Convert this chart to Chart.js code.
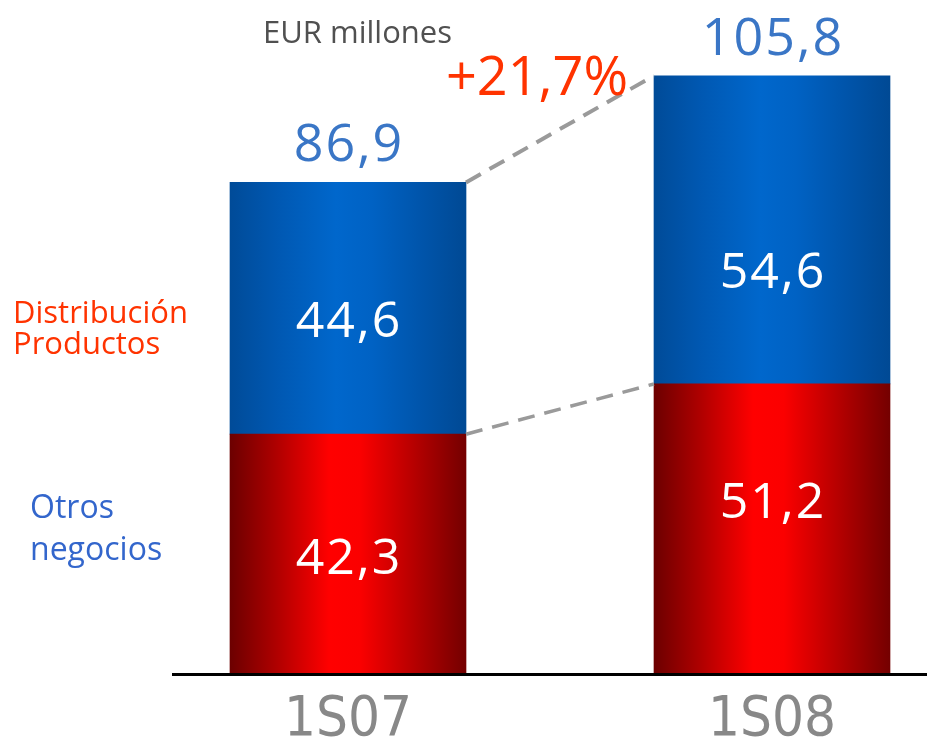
<!DOCTYPE html>
<html>
<head>
<meta charset="utf-8">
<script src="https://cdn.jsdelivr.net/npm/chart.js@4.4.1/dist/chart.umd.min.js"></script>
<style>
  html, body { margin: 0; padding: 0; background: #ffffff; }
  #wrap { width: 927px; height: 738px; position: relative; }
</style>
</head>
<body>
<div id="wrap"><canvas id="c" width="927" height="738"></canvas></div>
<script>
// ---- data ----
const categories = ['1S07', '1S08'];
const otrosNegocios = [42.3, 51.2];          // red, bottom segment
const distribucionProductos = [44.6, 54.6];  // blue, top segment
const totals = [86.9, 105.8];
const growthLabel = '+21,7%';
const unitLabel = 'EUR millones';
const sideLabelsTop = ['Distribución', 'Productos'];
const sideLabelsBottom = ['Otros', 'negocios'];

const fmt = v => v.toFixed(1).replace('.', ',');

const FONT = '"Open Sans", "DejaVu Sans", sans-serif';

function drawText(ctx, text, x, y, font, color, align, spacing) {
  ctx.save();
  ctx.font = font;
  ctx.fillStyle = color;
  ctx.textBaseline = 'alphabetic';
  if (spacing) ctx.letterSpacing = spacing + 'px';
  let w = ctx.measureText(text).width;
  if (spacing) w -= spacing;
  let sx = x;
  if (align === 'center') sx = x - w / 2;
  else if (align === 'right') sx = x - w;
  ctx.textAlign = 'left';
  ctx.fillText(text, sx, y);
  ctx.restore();
}

const gradientPlugin = {
  id: 'barGradients',
  beforeDatasetsDraw(chart) {
    const ctx = chart.ctx;
    const stops = [
      [[0, '#6c0000'], [0.2, '#b00000'], [0.42, '#ff0000'], [0.55, '#fb0000'], [0.8, '#b00000'], [1, '#740000']],
      [[0, '#004b98'], [0.2, '#0058b2'], [0.45, '#0067cc'], [0.6, '#0062c4'], [0.85, '#0052a6'], [1, '#004994']]
    ];
    chart.data.datasets.forEach((ds, di) => {
      const meta = chart.getDatasetMeta(di);
      meta.data.forEach(el => {
        const l = el.x - el.width / 2, r = el.x + el.width / 2;
        const g = ctx.createLinearGradient(l, 0, r, 0);
        stops[di].forEach(s => g.addColorStop(s[0], s[1]));
        el.options = Object.assign({}, el.options, { backgroundColor: g });
      });
    });
  }
};

const annotPlugin = {
  id: 'annotations',
  afterDatasetsDraw(chart) {
    const ctx = chart.ctx;
    const yS = chart.scales.y;
    const red = chart.getDatasetMeta(0).data;
    const blue = chart.getDatasetMeta(1).data;

    // dashed connector lines
    ctx.save();
    ctx.strokeStyle = '#9a9a9a';
    ctx.setLineDash([17, 10]);
    ctx.lineWidth = 4;
    ctx.beginPath();
    ctx.moveTo(blue[0].x + blue[0].width / 2, blue[0].y);
    ctx.lineTo(blue[1].x - blue[1].width / 2, blue[1].y);
    ctx.stroke();
    ctx.lineWidth = 3.5;
    ctx.beginPath();
    ctx.moveTo(red[0].x + red[0].width / 2, red[0].y);
    ctx.lineTo(red[1].x - red[1].width / 2, red[1].y);
    ctx.stroke();
    ctx.restore();

    // baseline axis line
    const y0 = yS.getPixelForValue(0);
    ctx.save();
    ctx.strokeStyle = '#000000';
    ctx.lineWidth = 3;
    ctx.beginPath();
    ctx.moveTo(172, y0 + 1.5);
    ctx.lineTo(927, y0 + 1.5);
    ctx.stroke();
    ctx.restore();

    // segment value labels (white)
    const offs = [[2, -28], [11, 40]];
    const segFont = '50px ' + FONT;
    [otrosNegocios, distribucionProductos].forEach((arr, di) => {
      const els = chart.getDatasetMeta(di).data;
      arr.forEach((v, i) => {
        const el = els[i];
        const mid = (el.y + el.base) / 2 + offs[di][i];
        drawText(ctx, fmt(v), el.x, mid + 18, segFont, '#ffffff', 'center', 2);
      });
    });

    // totals
    totals.forEach((t, i) => {
      const el = blue[i];
      drawText(ctx, fmt(t), el.x, el.y - 21, '52px ' + FONT, '#3a76c6', 'center', 2);
    });

    // growth label
    const gx = ((blue[0].x + blue[0].width / 2) + (blue[1].x - blue[1].width / 2)) / 2 - 23;
    drawText(ctx, growthLabel, gx, blue[1].y + 19, '54px ' + FONT, '#ff3300', 'center', 0);

    // unit label
    drawText(ctx, unitLabel, 263, 43, '31px ' + FONT, '#505050', 'left', 0);

    // side labels
    drawText(ctx, sideLabelsTop[0], 13, 323, '500 31px ' + FONT, '#ff3300', 'left', 0);
    drawText(ctx, sideLabelsTop[1], 13, 354, '500 31px ' + FONT, '#ff3300', 'left', 0);
    drawText(ctx, sideLabelsBottom[0], 30, 518, '500 32px ' + FONT, '#3366cc', 'left', 0);
    drawText(ctx, sideLabelsBottom[1], 30, 560, '500 32px ' + FONT, '#3366cc', 'left', 0);
  }
};

new Chart(document.getElementById('c'), {
  type: 'bar',
  data: {
    labels: categories,
    datasets: [
      { label: 'Otros negocios', data: otrosNegocios, backgroundColor: '#ff0000', clip: false, barThickness: 236, borderWidth: 0 },
      { label: 'Distribución Productos', data: distribucionProductos, backgroundColor: '#0066cc', clip: false, barThickness: 236, borderWidth: 0 }
    ]
  },
  options: {
    responsive: false,
    animation: false,
    events: [],
    layout: { padding: { left: 348, right: 155, top: 52, bottom: 0 } },
    plugins: { legend: { display: false }, tooltip: { enabled: false } },
    scales: {
      x: {
        stacked: true,
        offset: false,
        grid: { display: false, drawTicks: false },
        border: { display: false },
        ticks: {
          color: '#888888',
          font: { family: '"Liberation Sans Narrow", "DejaVu Sans Condensed", sans-serif', size: 56 },
          padding: 14,
          maxRotation: 0,
          autoSkip: false
        },
        afterFit(scale) { scale.height = 65; }
      },
      y: {
        stacked: true,
        display: false,
        min: 0,
        max: 110
      }
    }
  },
  plugins: [gradientPlugin, annotPlugin]
});
</script>
</body>
</html>
